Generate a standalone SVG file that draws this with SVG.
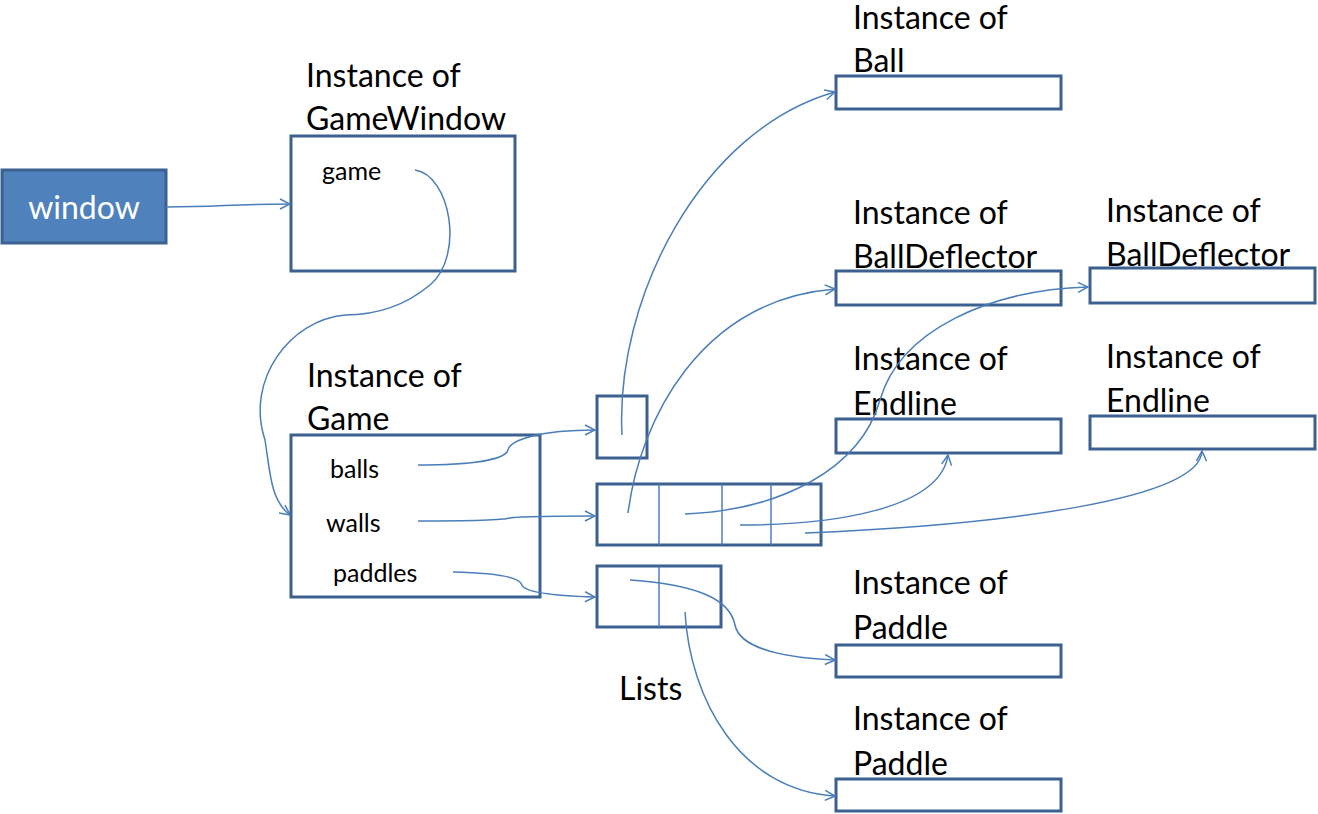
<svg xmlns="http://www.w3.org/2000/svg" width="1318" height="814" viewBox="0 0 1318 814">
<style>
.box{fill:#fff;stroke:#3C6190;stroke-width:3}
.t{font-family:Lato,"Open Sans",sans-serif;font-size:32px;fill:#000}
.s{font-family:Lato,"Open Sans",sans-serif;font-size:25px;fill:#000}
.c{fill:none;stroke:#4A7EBB;stroke-width:1.5;marker-end:url(#a)}
.d{stroke:#4A7EBB;stroke-width:1.5}
</style>
<defs><marker id="a" viewBox="0 0 12 12" refX="11" refY="6" markerWidth="12" markerHeight="12" markerUnits="userSpaceOnUse" orient="auto"><path d="M1,1 L11,6 L1,11" fill="none" stroke="#4A7EBB" stroke-width="1.5"/></marker></defs>
<rect width="1318" height="814" fill="#fff"/>
<g id="window"><rect x="2" y="170" width="164" height="73" fill="#4F81BD" stroke="#3C6190" stroke-width="3"/><text x="84" y="219" text-anchor="middle" class="t" style="fill:#fff">window</text></g>
<g id="gamewindow"><text x="306" y="87" class="t">Instance of</text><text x="306" y="130" class="t">GameWindow</text><rect x="291" y="136" width="224" height="135" class="box"/><text x="322" y="180" class="s">game</text></g>
<g id="game"><text x="307" y="387" class="t">Instance of</text><text x="307" y="430" class="t">Game</text><rect x="291" y="435" width="249" height="162" class="box"/><text x="330" y="478" class="s">balls</text><text x="326" y="532" class="s">walls</text><text x="333" y="582" class="s">paddles</text></g>
<g id="ballslist"><rect x="597" y="396" width="50" height="62" class="box"/></g>
<g id="wallslist"><rect x="597" y="484" width="224" height="61" class="box"/><line x1="659" y1="484" x2="659" y2="545" class="d"/><line x1="722" y1="484" x2="722" y2="545" class="d"/><line x1="771" y1="484" x2="771" y2="545" class="d"/></g>
<g id="paddleslist"><rect x="597" y="566" width="124" height="61" class="box"/><line x1="659" y1="566" x2="659" y2="627" class="d"/></g>
<text x="619" y="700" class="t">Lists</text>
<g id="ball"><text x="853" y="29" class="t">Instance of</text><text x="853" y="72" class="t">Ball</text><rect x="836" y="76" width="225" height="33" class="box"/></g>
<g id="deflector1"><text x="853" y="224" class="t">Instance of</text><text x="853" y="268" class="t">BallDeflector</text><rect x="836" y="271" width="225" height="34" class="box"/></g>
<g id="deflector2"><text x="1106" y="222" class="t">Instance of</text><text x="1106" y="266" class="t">BallDeflector</text><rect x="1090" y="268" width="225" height="35" class="box"/></g>
<g id="endline1"><text x="853" y="370" class="t">Instance of</text><text x="853" y="415" class="t">Endline</text><rect x="836" y="419" width="225" height="34" class="box"/></g>
<g id="endline2"><text x="1106" y="368" class="t">Instance of</text><text x="1106" y="412" class="t">Endline</text><rect x="1090" y="416" width="225" height="33" class="box"/></g>
<g id="paddle1"><text x="853" y="594" class="t">Instance of</text><text x="853" y="639" class="t">Paddle</text><rect x="836" y="645" width="225" height="32" class="box"/></g>
<g id="paddle2"><text x="853" y="730" class="t">Instance of</text><text x="853" y="775" class="t">Paddle</text><rect x="836" y="779" width="225" height="32" class="box"/></g>
<g id="connectors">
<path class="c" d="M166,207 C220,207 230,204 290,204"/>
<path class="c" d="M415,170 C450,175 465,255 430,285 C400,310 370,315 345,315 C290,320 245,380 265,440 C270,470 270,500 290,515"/>
<path class="c" d="M418,465 C470,465 505,460 508,450 C510,440 540,430 595,430"/>
<path class="c" d="M418,521 C460,521 500,521 510,518 C520,516 560,516 595,516"/>
<path class="c" d="M453,572 C500,573 520,578 522,585 C525,593 560,596 595,597"/>
<path class="c" d="M622,435 C615,300 700,130 835,92"/>
<path class="c" d="M628,513 C640,420 700,300 835,289"/>
<path class="c" d="M685,514 C780,510 860,470 880,400 C900,330 990,290 1088,287"/>
<path class="c" d="M740,525 C830,525 940,510 948,455"/>
<path class="c" d="M805,533 C1000,525 1200,500 1202,451"/>
<path class="c" d="M630,580 C700,585 730,600 735,625 C740,650 790,658 835,660"/>
<path class="c" d="M685,612 C690,700 740,790 835,796"/>
</g>
</svg>
